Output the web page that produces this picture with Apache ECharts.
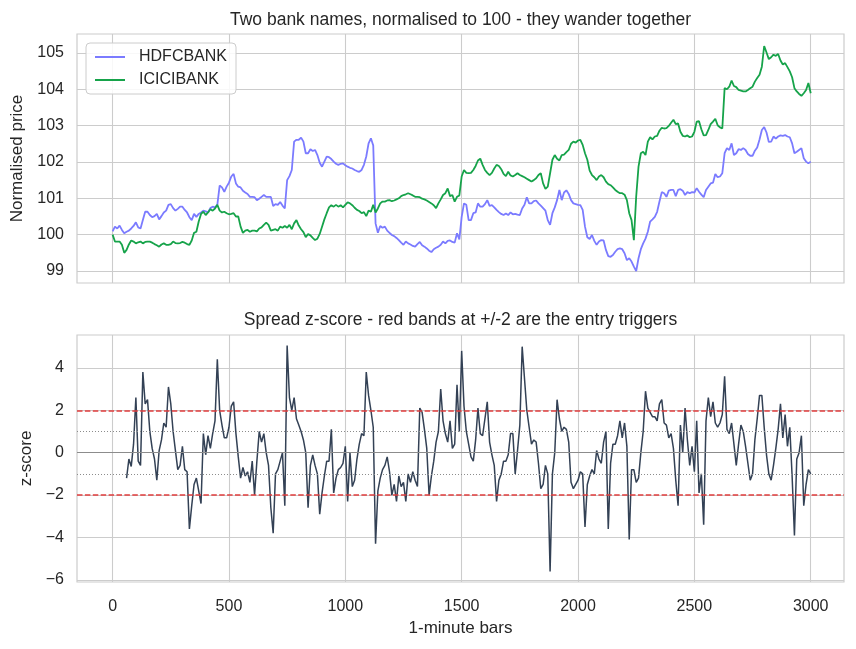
<!DOCTYPE html>
<html>
<head>
<meta charset="utf-8">
<script src="https://cdn.jsdelivr.net/npm/echarts@6/dist/echarts.min.js"></script>
<style>
  html, body { margin: 0; padding: 0; background: #fff; }
  #chart { width: 856px; height: 649px; }
</style>
</head>
<body>
<div id="chart"></div>
<script>
// one value every 10 one-minute bars
const barStep = 10
const zStart = 60

const xTicks = [0, 500, 1000, 1500, 2000, 2500, 3000]
const priceTicks = [99, 100, 101, 102, 103, 104, 105]
const zTicks = [-6, -4, -2, 0, 2, 4]
const triggerLevels = [2, -2]
const softLevels = [1, -1]

const hdfc = [
  100.09, 100.22, 100.17, 100.25, 100.13, 100.04, 100.08, 100.11, 100.17, 100.24,
  100.34, 100.20, 100.17, 100.40, 100.63, 100.63, 100.54, 100.48, 100.51, 100.57,
  100.42, 100.51, 100.61, 100.66, 100.82, 100.84, 100.73, 100.66, 100.71, 100.77,
  100.77, 100.68, 100.61, 100.48, 100.40, 100.57, 100.49, 100.57, 100.61, 100.66,
  100.64, 100.61, 100.73, 100.77, 100.75, 100.82, 101.35, 101.30, 101.18, 101.32,
  101.43, 101.60, 101.67, 101.41, 101.32, 101.30, 101.21, 101.16, 101.12, 101.04,
  101.04, 101.03, 100.95, 100.99, 101.04, 101.09, 101.04, 101.04, 101.04, 100.79,
  100.84, 100.82, 100.90, 100.80, 100.72, 101.50, 101.61, 101.78, 102.56, 102.61,
  102.61, 102.67, 102.56, 102.24, 102.24, 102.35, 102.30, 102.33, 102.19, 101.98,
  101.87, 102.01, 102.15, 102.13, 102.08, 102.01, 101.95, 101.92, 101.95, 101.96,
  101.91, 101.87, 101.84, 101.82, 101.78, 101.75, 101.73, 101.78, 101.92, 102.15,
  102.51, 102.65, 102.45, 100.31, 100.05, 100.24, 100.19, 100.22, 100.11, 100.05,
  99.99, 99.96, 99.91, 99.85, 99.78, 99.72, 99.81, 99.76, 99.73, 99.69,
  99.67, 99.74, 99.80, 99.71, 99.67, 99.62, 99.56, 99.52, 99.60, 99.64,
  99.67, 99.72, 99.81, 99.76, 99.83, 99.84, 99.80, 99.78, 100.04, 99.87,
  100.49, 100.86, 100.82, 100.40, 100.40, 100.59, 100.61, 100.86, 100.77, 100.77,
  100.84, 100.95, 100.79, 100.81, 100.75, 100.68, 100.62, 100.57, 100.54, 100.58,
  100.54, 100.61, 100.56, 100.57, 100.55, 100.54, 100.72, 100.82, 101.03, 100.86,
  100.86, 100.92, 100.94, 100.86, 100.80, 100.73, 100.66, 100.40, 100.27, 100.59,
  100.75, 100.95, 101.23, 100.95, 101.16, 101.22, 101.12, 100.95, 100.86, 100.84,
  100.82, 100.81, 100.68, 100.22, 99.93, 99.88, 99.99, 99.83, 99.72, 99.81,
  99.85, 99.84, 99.58, 99.41, 99.39, 99.44, 99.53, 99.60, 99.62, 99.60,
  99.49, 99.30, 99.35, 99.26, 99.12, 99.00, 99.35, 99.60, 99.76, 99.89,
  100.08, 100.36, 100.42, 100.49, 100.63, 100.91, 101.17, 101.14, 101.04, 101.21,
  101.23, 101.23, 101.06, 101.23, 101.25, 101.21, 101.09, 101.17, 101.14, 101.17,
  101.16, 101.28, 101.18, 101.10, 101.03, 101.23, 101.32, 101.41, 101.43, 101.67,
  101.58, 101.60, 101.69, 102.24, 102.38, 102.33, 102.51, 102.19, 102.24, 102.35,
  102.33, 102.38, 102.33, 102.22, 102.17, 102.17, 102.31, 102.40, 102.62, 102.88,
  102.96, 102.81, 102.55, 102.56, 102.70, 102.64, 102.70, 102.73, 102.72, 102.74,
  102.70, 102.68, 102.51, 102.24, 102.28, 102.33, 102.38, 102.10, 102.01, 101.96,
  102.01
]

const icici = [
  100.00, 99.81, 99.81, 99.81, 99.72, 99.50, 99.58, 99.73, 99.84, 99.81,
  99.76, 99.79, 99.81, 99.76, 99.80, 99.81, 99.81, 99.78, 99.74, 99.71,
  99.67, 99.73, 99.76, 99.72, 99.72, 99.74, 99.81, 99.77, 99.76, 99.77,
  99.80, 99.78, 99.74, 99.72, 99.84, 100.05, 100.08, 100.36, 100.57, 100.63,
  100.54, 100.61, 100.70, 100.66, 100.72, 100.82, 100.66, 100.61, 100.63, 100.59,
  100.56, 100.57, 100.59, 100.50, 100.50, 100.22, 100.05, 100.11, 100.13, 100.08,
  100.11, 100.11, 100.09, 100.17, 100.20, 100.27, 100.33, 100.27, 100.11, 100.13,
  100.15, 100.11, 100.22, 100.19, 100.24, 100.19, 100.27, 100.15, 100.31, 100.40,
  100.25, 100.15, 100.07, 99.93, 100.02, 99.98, 99.91, 99.85, 99.89, 100.02,
  100.22, 100.42, 100.59, 100.75, 100.81, 100.77, 100.82, 100.77, 100.81, 100.75,
  100.82, 100.89, 100.86, 100.81, 100.74, 100.68, 100.65, 100.59, 100.62, 100.51,
  100.66, 100.63, 100.82, 100.61, 100.72, 100.86, 100.91, 100.91, 100.94, 100.95,
  100.92, 100.94, 100.97, 101.00, 101.06, 101.09, 101.11, 101.14, 101.11, 101.08,
  101.04, 101.04, 101.03, 100.99, 100.97, 100.94, 100.90, 100.86, 100.81, 100.73,
  100.86, 100.97, 101.09, 101.14, 101.27, 101.06, 101.09, 100.91, 101.04, 101.08,
  101.60, 101.78, 101.70, 101.69, 101.70, 101.78, 101.89, 102.04, 102.09, 101.92,
  101.78, 101.70, 101.64, 101.70, 101.82, 101.92, 101.89, 101.80, 101.67, 101.61,
  101.73, 101.63, 101.60, 101.64, 101.69, 101.64, 101.61, 101.58, 101.54, 101.50,
  101.46, 101.50, 101.55, 101.64, 101.69, 101.41, 101.26, 101.32, 101.69, 102.06,
  102.19, 102.09, 102.04, 102.19, 102.20, 102.27, 102.33, 102.50, 102.56, 102.53,
  102.59, 102.61, 102.47, 102.24, 102.06, 101.76, 101.64, 101.58, 101.50, 101.60,
  101.64, 101.58, 101.46, 101.39, 101.36, 101.30, 101.23, 101.18, 101.14, 101.14,
  101.10, 100.95, 100.59, 100.40, 99.85, 101.05, 101.87, 102.24, 102.28, 102.19,
  102.56, 102.68, 102.62, 102.70, 102.72, 102.86, 102.94, 102.92, 102.93, 102.99,
  103.08, 103.16, 103.04, 103.06, 102.83, 102.72, 102.70, 102.73, 102.68, 102.70,
  102.83, 103.11, 103.12, 102.90, 102.73, 102.74, 102.88, 103.04, 103.11, 103.19,
  103.01, 102.95, 102.92, 104.03, 104.00, 104.07, 104.24, 104.09, 104.06, 103.98,
  103.96, 103.94, 103.94, 103.98, 104.03, 104.07, 104.21, 104.31, 104.40, 104.62,
  105.19, 105.01, 104.83, 104.88, 104.95, 104.92, 104.97, 104.79, 104.68, 104.72,
  104.61, 104.49, 104.33, 104.03, 103.94, 103.87, 103.82, 103.89, 103.98, 104.17,
  103.89
]

// z-score starts once the rolling window is full (bar 60)
const zscore = [
  -1.2, -0.3, -0.65, 0.4, 2.6, -0.4, -0.6, 3.8, 2.3, 2.5,
  1.0, 0.2, -0.3, -1.3, 0.1, 0.6, 1.4, 1.2, 3.1, 2.3,
  1.0, 0.1, -0.8, -0.6, 0.3, -0.8, -0.9, -3.6, -2.5, -1.5,
  -1.2, -1.8, -2.4, 0.9, -0.1, 0.8, 0.2, 0.9, 1.5, 4.4,
  2.0, 1.3, 0.7, 0.7, 1.2, 2.2, 2.4, 0.9, -0.2, -1.2,
  -0.7, -1.1, -0.9, -1.4, -0.4, -2.0, -0.4, 1.0, 0.5, 0.9,
  0.0, -0.6, -2.6, -3.8, -1.0, -0.8, -0.4, 0.0, -2.5, 5.05,
  2.6, 2.0, 2.6, 1.6, 1.3, 1.0, 0.6, 0.0, -2.6, -0.6,
  -0.1, -0.6, -1.0, -2.9, -1.9, -1.1, -0.4, -0.4, 1.1, -1.9,
  -1.2, -0.8, -0.7, -0.5, 0.3, -2.3, 0.0, -1.6, -1.3, -0.3,
  0.4, 0.9, 0.8, 3.8, 2.7, 2.0, 1.2, -4.3, -1.8, -1.2,
  -0.8, -0.6, -0.2, -0.9, -2.0, -1.5, -2.3, -1.1, -1.6, -1.4,
  -2.3, -1.0, -1.4, -0.9, -1.3, -1.6, 2.1, 1.9, 1.1, 0.2,
  -2.0, -1.1, -0.4, 0.5, 1.0, 3.0, 1.5, 0.9, 0.5, 1.5,
  0.2, 0.4, 3.2, 1.0, 4.8, 2.2, 1.0, 0.4, -0.2, -0.4,
  0.6, 2.1, 0.9, 0.8, 1.6, 2.4, 0.5, -0.1, -0.6, -2.3,
  -1.3, -1.0, -0.4, -0.4, -0.1, 0.9, 0.9, -1.0, 0.1, 1.3,
  5.0, 3.5, 2.0, 1.2, 0.4, 0.6, 0.5, -0.5, -1.7, -1.5,
  -0.6, -1.0, -5.6, -1.0, 0.0, 2.5, 1.6, 1.0, 1.2, 1.1,
  0.5, -1.4, -1.7, -1.5, -1.3, -0.9, -1.0, -3.5, -1.5, -1.1,
  -0.8, -1.0, 0.1, -0.3, -0.5, 0.5, 1.0, -3.6, -0.5, 0.4,
  0.4, 0.8, 1.5, 0.7, 1.4, 0.3, -4.1, -0.8, -0.8, -1.4,
  -1.2, 0.0, 1.0, 2.9, 2.1, 1.9, 1.7, 1.7, 1.5, 2.3,
  2.5, 1.4, 1.3, 0.7, 0.9, 0.2, -1.3, -2.5, 1.3, 0.0,
  2.1, 0.6, -0.6, 0.3, -0.9, 1.5, -1.9, -1.0, -3.4, 1.5,
  2.6, 1.7, 2.4, 1.4, 1.2, 1.4, 1.8, 3.6, 1.1, 0.9,
  1.4, 0.4, -0.6, 0.4, 1.3, 1.0, 0.3, -0.5, -1.3, -1.0,
  0.6, 1.6, 2.7, 2.7, 1.2, -0.1, -1.0, -1.3, -0.6, 0.2,
  1.1, 2.3, 0.7, 1.8, 0.3, 1.2, -1.1, -3.9, -0.3, 0.0,
  0.8, -2.5, -1.5, -0.8, -1.0
]

const font = "'Liberation Sans', Arial, sans-serif"
const ink = '#262626'
const gridColor = '#cccccc'

const chart = echarts.init(document.getElementById('chart'))

const xAxisFor = (gridIndex, withLabels) => ({
  type: 'value',
  gridIndex: gridIndex,
  min: -153,
  max: 3143,
  axisLine: { show: false },
  axisTick: { show: false, customValues: xTicks },
  axisLabel: {
    show: withLabels,
    customValues: xTicks,
    margin: 17,
    color: ink,
    fontSize: 16,
    fontFamily: font,
    formatter: (v) => String(v)
  },
  splitLine: { show: true, lineStyle: { color: gridColor, width: 1.1 } },
  name: withLabels ? '1-minute bars' : '',
  nameLocation: 'middle',
  nameGap: 38,
  nameTextStyle: { color: ink, fontSize: 17, fontFamily: font }
})

const yAxisFor = (gridIndex, lo, hi, ticks, title, gap) => ({
  type: 'value',
  gridIndex: gridIndex,
  min: lo,
  max: hi,
  axisLine: { show: false },
  axisTick: { show: false, customValues: ticks },
  axisLabel: {
    customValues: ticks,
    margin: 13,
    color: ink,
    fontSize: 16,
    fontFamily: font,
    formatter: (v) => String(v).replace('-', '\u2212')
  },
  splitLine: { show: true, lineStyle: { color: gridColor, width: 1.1 } },
  name: title,
  nameLocation: 'middle',
  nameGap: gap,
  nameTextStyle: { color: ink, fontSize: 17, fontFamily: font }
})

const dashed = { color: '#e03c3c', type: [5.5, 2.4], width: 1.5 }
const dotted = { color: '#8c8c8c', type: [1, 2], width: 1 }
const zero = { color: '#8c8c8c', type: 'solid', width: 1.2 }

const titleStyle = {
  fill: ink, fontSize: 17.5, fontFamily: font,
  align: 'center', verticalAlign: 'middle',
  textAlign: 'center', textVerticalAlign: 'middle'
}

const options = {
  animation: false,
  backgroundColor: '#ffffff',
  graphic: [
    {
      type: 'text', x: 460.5, y: 20, silent: true,
      style: Object.assign({ text: 'Two bank names, normalised to 100 - they wander together' }, titleStyle)
    },
    {
      type: 'text', x: 460.5, y: 320, silent: true,
      style: Object.assign({ text: 'Spread z-score - red bands at +/-2 are the entry triggers' }, titleStyle)
    }
  ],
  grid: [
    { left: 77, top: 34, width: 767, height: 249, show: true, borderColor: gridColor, borderWidth: 1.2, backgroundColor: 'transparent' },
    { left: 77, top: 335, width: 767, height: 247, show: true, borderColor: gridColor, borderWidth: 1.2, backgroundColor: 'transparent' }
  ],
  legend: {
    data: ['HDFCBANK', 'ICICIBANK'],
    orient: 'vertical',
    left: 86,
    top: 43,
    icon: 'rect',
    itemWidth: 30,
    itemHeight: 2,
    itemGap: 7,
    padding: [6, 9, 6, 9],
    backgroundColor: 'rgba(255,255,255,0.85)',
    borderColor: '#cccccc',
    borderWidth: 1,
    borderRadius: 4,
    textStyle: { color: ink, fontSize: 16, fontFamily: font, padding: [0, 0, 0, 9] }
  },
  xAxis: [xAxisFor(0, false), xAxisFor(1, true)],
  yAxis: [
    yAxisFor(0, 98.67, 105.52, priceTicks, 'Normalised price', 51),
    yAxisFor(1, -6.1, 5.55, zTicks, 'z-score', 39)
  ],
  series: [
    {
      name: 'HDFCBANK',
      type: 'line',
      xAxisIndex: 0,
      yAxisIndex: 0,
      data: hdfc.map((v, i) => [i * barStep, v]),
      showSymbol: false,
      lineStyle: { color: '#7b7bff', width: 1.8 },
      itemStyle: { color: '#7b7bff' }
    },
    {
      name: 'ICICIBANK',
      type: 'line',
      xAxisIndex: 0,
      yAxisIndex: 0,
      data: icici.map((v, i) => [i * barStep, v]),
      showSymbol: false,
      lineStyle: { color: '#16a34a', width: 1.8 },
      itemStyle: { color: '#16a34a' }
    },
    {
      // reference levels sit under the z-score trace
      name: 'levels',
      type: 'line',
      xAxisIndex: 1,
      yAxisIndex: 1,
      data: [],
      z: 1,
      markLine: {
        silent: true,
        symbol: 'none',
        label: { show: false },
        data: [
          ...softLevels.map((v) => ({ yAxis: v, lineStyle: dotted })),
          { yAxis: 0, lineStyle: zero },
          ...triggerLevels.map((v) => ({ yAxis: v, lineStyle: dashed }))
        ]
      }
    },
    {
      name: 'z-score',
      type: 'line',
      xAxisIndex: 1,
      yAxisIndex: 1,
      z: 3,
      data: zscore.map((v, i) => [zStart + i * barStep, v]),
      showSymbol: false,
      lineStyle: { color: '#334155', width: 1.5 },
      itemStyle: { color: '#334155' }
    }
  ]
}

chart.setOption(options)
</script>
</body>
</html>
